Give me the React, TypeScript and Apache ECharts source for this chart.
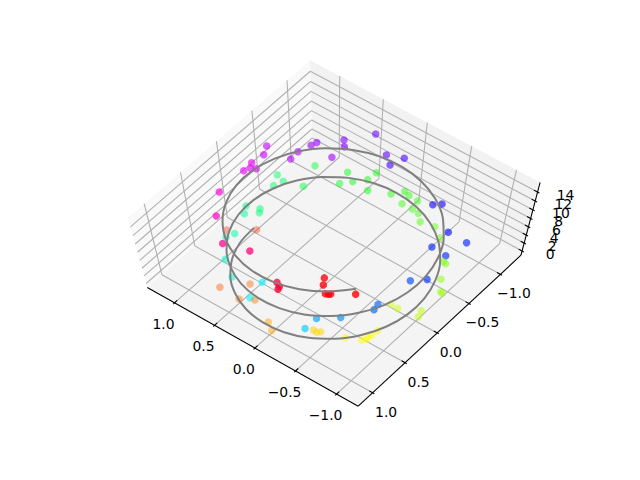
import React, { useEffect, useRef } from "react";
import * as echarts from "echarts";

const lineX = [1,.969,.878,.732,.54,.315,.071,-.178,-.416,-.628,-.801,-.924,-.99,-.994,-.936,-.821,-.654,-.446,-.211,.038,.284,.512,.709,.861,.96,.999,.977,.894,.754,.568,.347,.103,-.146,-.384,-.602,-.78,-.911,-.985,-.997,-.947,-.839,-.679,-.476,-.243,.004,.252,.483,.686,.844,.95,.998,.984,.907,.776,.598,.38,.137,-.112,-.355,-.575,-.76];
const lineY = [0,.247,.479,.682,.841,.949,.997,.984,.909,.778,.598,.382,.141,-.108,-.351,-.572,-.757,-.895,-.978,-.999,-.959,-.859,-.706,-.508,-.279,-.033,.215,.45,.657,.823,.938,.995,.989,.923,.798,.625,.412,.174,-.075,-.321,-.544,-.735,-.88,-.97,-1,-.968,-.875,-.728,-.537,-.312,-.066,.183,.42,.63,.802,.925,.991,.994,.935,.818,.65];
const lineZ = [0,.25,.5,.75,1,1.25,1.5,1.75,2,2.25,2.5,2.75,3,3.25,3.5,3.75,4,4.25,4.5,4.75,5,5.25,5.5,5.75,6,6.25,6.5,6.75,7,7.25,7.5,7.75,8,8.25,8.5,8.75,9,9.25,9.5,9.75,10,10.25,10.5,10.75,11,11.25,11.5,11.75,12,12.25,12.5,12.75,13,13.25,13.5,13.75,14,14.25,14.5,14.75,15];

const pointX = [-.453,-.5,-.582,-.606,-.622,-.798,-.142,-.194,-.206,.313,.575,.862,1.048,1.069,1.044,1,1.078,1.07,1.12,.847,.858,.825,.805,.57,.636,.578,.465,.219,.068,.116,
  -.5,-.561,-.822,-1.033,-.815,-.982,-1.03,-.915,-.861,-.872,-.684,-.511,-.496,.2,.162,.478,.681,.864,.838,.937,.994,.879,.85,.981,.946,1.047,.769,.86,.53,.569,
  .451,.362,.356,.27,.073,-.006,-.072,-.082,-.179,-.204,-.282,-.364,-.508,-.636,-.852,-.886,-.974,-1.068,-1.091,-1.068,-1.093,-.869,-.783,-.89,-.878,-.866,-.876,-.845,-.699,-.459,
  -.434,-.387,-.07,.029,.329,.461,.509,.713,1.171,.943];
const pointY = [.709,.782,.856,.844,.831,.703,.985,1.016,1.049,.807,.869,.615,.349,-.021,-.088,-.115,-.146,-.308,-.413,-.423,-.542,-.692,-.751,-.679,-.939,-.872,-1.195,-1.041,-1.116,-.966,
  -.817,-.876,-.635,-.637,-.403,-.393,-.056,.042,.447,.519,.766,.9,1.049,.811,1.034,.912,.764,.532,.438,.175,.081,.016,.062,-.311,-.413,-.447,-.492,-.783,-.744,-.916,
  -.845,-.962,-1.086,-.846,-.954,-1.064,-1.046,-.927,-1.041,-.93,-.923,-.847,-.888,-.806,-.58,-.572,-.387,-.263,-.255,.033,.107,.135,.127,.465,.539,.577,.612,.648,.716,.782,
  .811,.804,1.037,.966,.801,.879,.655,.862,.204,.025];
const pointZ = [14.9,14.9,14.9,14.9,14.9,15,14.4,14.5,14.5,13.9,13.6,13.1,12.8,12.3,12.2,12.2,12.3,12,12,11.8,11.7,11.5,11.5,11.6,11.3,11.3,11,10.9,10.7,10.7,
  10.2,10.2,9.9,9.7,9.7,9.6,9.5,9.3,9,9,8.6,8.4,8,7.6,7.6,7.2,7,6.9,6.7,6.6,6.5,6.2,6.2,6,6,6,5.6,5.5,5.3,5.2,
  5.2,5,5,5,4.8,4.7,4.7,4.5,4.6,4.5,4.4,4.3,4.1,4,3.85,3.8,3.7,3.5,3.5,3.2,3.1,3,2.9,2.6,2.5,2.5,2.5,2.5,2.4,2.1,
  2.1,2,1.7,1.6,1.2,1.1,1,.9,.5,.5];

const xTicks = [1, 0.5, 0, -0.5, -1];
const yTicks = [-1, -0.5, 0, 0.5, 1];
const zTicks = [0, 2, 4, 6, 8, 10, 12, 14];
const xLim = [-1.21, 1.29];
const yLim = [-1.28, 1.17];
const zLim = [-0.75, 15.75];

const ELEV = (70 * Math.PI) / 180;
const AZIM = (128 * Math.PI) / 180;
const CX = 334.7, CY = 237.4, SX = 2681, SY = 1998, DIST = 10;

function unit(v: number, lim: number[]) { return (v - lim[0]) / (lim[1] - lim[0]) - 0.5; }
function proj(x: number, y: number, z: number) {
  const u = unit(x, xLim), v = unit(y, yLim), w = unit(z, zLim);
  const X = -Math.sin(AZIM) * u + Math.cos(AZIM) * v;
  const h = Math.cos(AZIM) * u + Math.sin(AZIM) * v;
  const Y = -Math.sin(ELEV) * h + Math.cos(ELEV) * w;
  const d = Math.cos(ELEV) * h + Math.sin(ELEV) * w;
  return { px: CX + (SX * X) / (DIST - d), py: CY - (SY * Y) / (DIST - d), d };
}
function pad(lim: number[]) { const m = (lim[1] - lim[0]) / 48; return [lim[0] - m, lim[1] + m]; }
const PX = pad(xLim), PY = pad(yLim), PZ = pad(zLim);

function fmt(v: number, dec: number) {
  const s = Math.abs(v).toFixed(dec);
  return v < 0 ? "\u2212" + s : s;
}

function hsvColor(t: number, alpha: number) {
  const h = ((t % 1) + 1) % 1 * 6;
  const f = h - Math.floor(h);
  const table = [[1, f, 0], [1 - f, 1, 0], [0, 1, f], [0, 1 - f, 1], [f, 0, 1], [1, 0, 1 - f]][Math.floor(h) % 6];
  return `rgba(${Math.round(table[0] * 255)},${Math.round(table[1] * 255)},${Math.round(table[2] * 255)},${alpha.toFixed(3)})`;
}

function buildGraphic() {
  const els: any[] = [];
  const poly = (pts: number[][], fill: string) => {
    els.push({ type: "polygon", silent: true, z: 1, shape: { points: pts.map((p) => { const q = proj(p[0], p[1], p[2]); return [q.px, q.py]; }) }, style: { fill, stroke: "none" } });
  };
  const seg = (a: number[], b: number[], stroke: string, w: number, z = 2) => {
    const p = proj(a[0], a[1], a[2]), q = proj(b[0], b[1], b[2]);
    els.push({ type: "line", silent: true, z, shape: { x1: p.px, y1: p.py, x2: q.px, y2: q.py }, style: { stroke, lineWidth: w } });
  };
  const label = (s: string, x: number, y: number) => {
    els.push({ type: "text", silent: true, z: 5, x, y, style: { text: s, fill: "#000", font: '13.9px "DejaVu Sans"', textAlign: "center", textVerticalAlign: "middle" } });
  };
  const [x0, x1] = PX, [y0, y1] = PY, [z0, z1] = PZ;
  poly([[x1, y0, z0], [x1, y1, z0], [x1, y1, z1], [x1, y0, z1]], "#f9f9f9");
  poly([[x0, y0, z0], [x1, y0, z0], [x1, y0, z1], [x0, y0, z1]], "#f2f2f2");
  poly([[x0, y0, z0], [x1, y0, z0], [x1, y1, z0], [x0, y1, z0]], "#f4f4f4");
  const G = "#b0b0b0", GW = 1.07;
  xTicks.forEach((t) => { seg([t, y1, z0], [t, y0, z0], G, GW); seg([t, y0, z0], [t, y0, z1], G, GW); });
  yTicks.forEach((t) => { seg([x0, t, z0], [x1, t, z0], G, GW); seg([x1, t, z0], [x1, t, z1], G, GW); });
  zTicks.forEach((t) => { seg([x0, y0, t], [x1, y0, t], G, GW); seg([x1, y0, t], [x1, y1, t], G, GW); });
  seg([x1, y1, z0], [x0, y1, z0], "#000", 1.07, 4);
  seg([x0, y1, z0], [x0, y0, z0], "#000", 1.07, 4);
  seg([x0, y0, z0], [x0, y0, z1], "#000", 1.07, 4);
  const dx = (xLim[1] - xLim[0]) / 12, dy = (yLim[1] - yLim[0]) / 12;
  xTicks.forEach((t) => {
    seg([t, y1 + 0.1 * dy, z0], [t, y1 - 0.2 * dy, z0], "#000", 1.07, 4);
    const p = proj(t, y1, z0);
    label(fmt(t, 1), p.px - 11, p.py + 21);
  });
  yTicks.forEach((t) => {
    seg([x0 - 0.1 * dx, t, z0], [x0 + 0.2 * dx, t, z0], "#000", 1.07, 4);
    const p = proj(x0, t, z0);
    label(fmt(t, 1), p.px + 13.5, p.py + 19);
  });
  zTicks.forEach((t) => {
    seg([x0 - 0.1 * dx, y0, t], [x0 + 0.2 * dx, y0, t], "#000", 1.07, 4);
    const p = proj(x0, y0, t);
    label(String(t), p.px + 28, p.py + 3);
  });
  return els;
}

function scatterData() {
  const pts = pointZ.map((z, i) => proj(pointX[i], pointY[i], z));
  const ds = pts.map((p) => p.d);
  const lo = Math.min(...ds), hi = Math.max(...ds);
  return pts.map((p, i) => ({
    value: [p.px, p.py],
    itemStyle: { color: hsvColor(pointZ[i] / 15, 1 - 0.52 * ((hi - p.d) / (hi - lo))) },
  }));
}

export default function App() {
  const ref = useRef<HTMLDivElement>(null);
  useEffect(() => {
    const chart = echarts.init(ref.current!, undefined, { renderer: "svg" });
    chart.setOption({
      animation: false,
      backgroundColor: "#fff",
      grid: { left: 0, top: 0, right: 0, bottom: 0 },
      xAxis: { type: "value", min: 0, max: 640, show: false },
      yAxis: { type: "value", min: 0, max: 480, inverse: true, show: false },
      graphic: { elements: buildGraphic() },
      series: [
        { type: "scatter", z: 6, silent: true, symbolSize: 7.5, data: scatterData() },
        {
          type: "line", z: 7, showSymbol: false, smooth: 0.3, silent: true,
          lineStyle: { color: "#808080", width: 2 },
          data: lineZ.map((z, i) => { const p = proj(lineX[i], lineY[i], z); return [p.px, p.py]; }),
        },
      ],
    });
    return () => chart.dispose();
  }, []);
  return <div ref={ref} style={{ position: "absolute", left: 0, top: 0, width: 640, height: 480 }} />;
}
